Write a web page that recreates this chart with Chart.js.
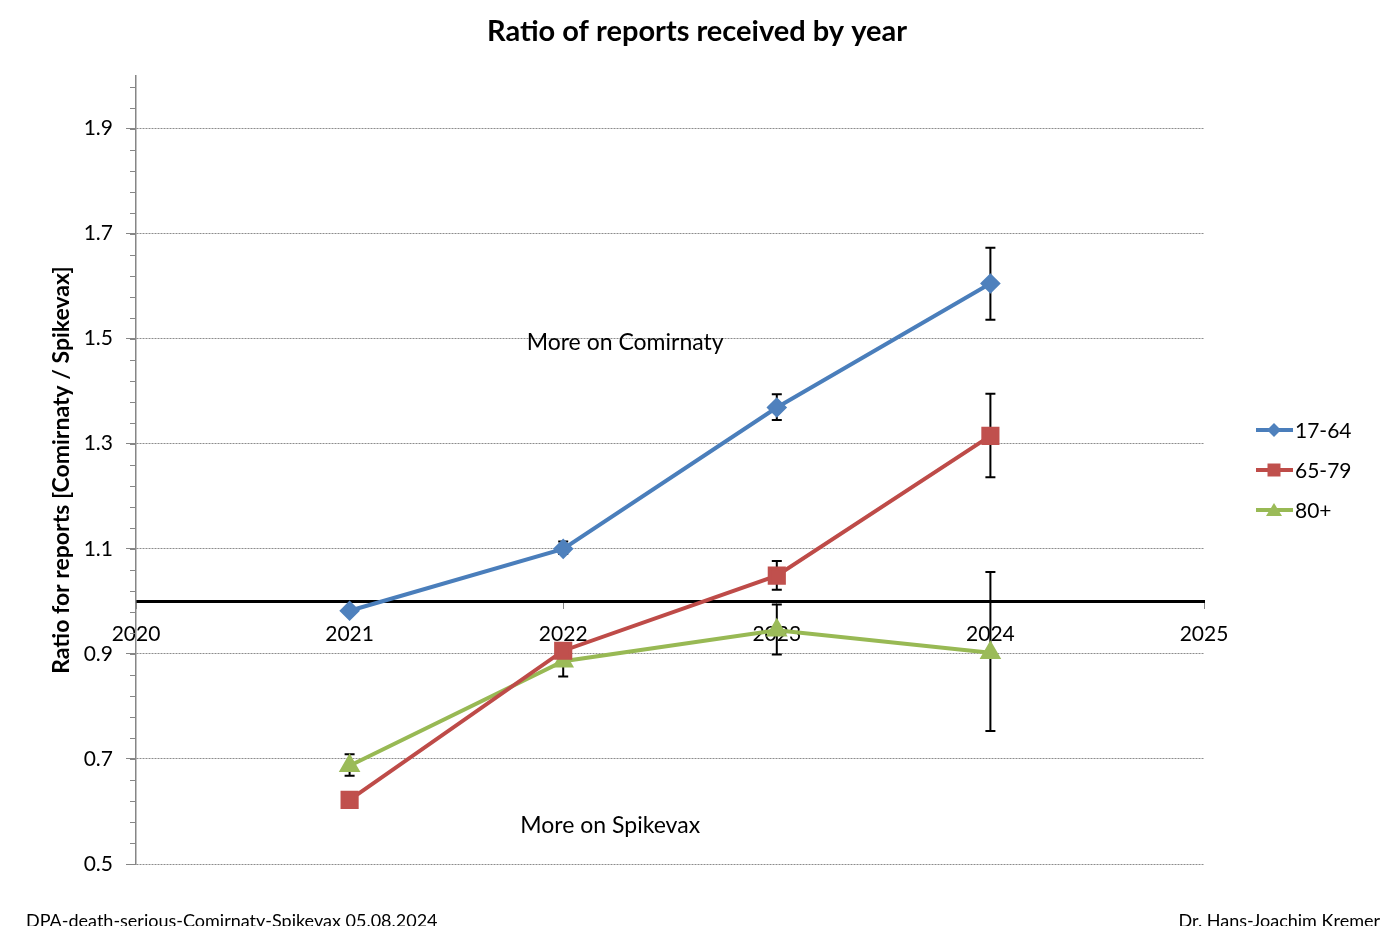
<!DOCTYPE html>
<html>
<head>
<meta charset="utf-8">
<script src="https://cdn.jsdelivr.net/npm/chart.js@4.4.1/dist/chart.umd.min.js"></script>
<style>
  html, body { margin: 0; padding: 0; background: #fff; }
  #wrap { width: 1386px; height: 926px; }
</style>
</head>
<body>
<div id="wrap"><canvas id="myChart"></canvas></div>
<script>
// 연도 / 눈금
const years = [2021, 2022, 2023, 2024];
const xTicks = [2020, 2021, 2022, 2023, 2024, 2025];
const yTicks = [0.5, 0.7, 0.9, 1.1, 1.3, 1.5, 1.7, 1.9];

// 연령대별 비율 (Comirnaty / Spikevax)
const seriesNames = ['17-64', '65-79', '80+'];
const r1764 = [0.982, 1.100, 1.369, 1.605];
const lo1764 = [0.978, 1.090, 1.345, 1.536];
const hi1764 = [0.986, 1.114, 1.394, 1.673];

const r6579 = [0.622, 0.906, 1.049, 1.315];
const lo6579 = [0.615, 0.893, 1.022, 1.236];
const hi6579 = [0.629, 0.919, 1.077, 1.395];

const r80 = [0.687, 0.886, 0.945, 0.902];
const lo80 = [0.668, 0.857, 0.899, 0.753];
const hi80 = [0.709, 0.915, 0.994, 1.056];

// 텍스트 주석 (데이터 좌표)
const notes = [
  { text: 'More on Comirnaty', x: 2022.29, y: 1.492 },
  { text: 'More on Spikevax', x: 2022.22, y: 0.574 },
];

const FONT = 'Lato, "Open Sans", sans-serif';

function makeSet(label, vals, lo, hi, color, fill, style, radius) {
  return {
    label: label,
    data: years.map((x, i) => ({ x: x, y: vals[i] })),
    errLo: lo,
    errHi: hi,
    borderColor: color,
    backgroundColor: fill,
    pointBackgroundColor: fill,
    pointBorderColor: fill,
    pointStyle: style,
    pointRadius: radius,
    pointHoverRadius: radius,
    borderWidth: 4,
    tension: 0,
  };
}

const data = {
  datasets: [
    makeSet(seriesNames[0], r1764, lo1764, hi1764, '#4A7EBB', '#4F81BD', 'rectRot', 7.5),
    makeSet(seriesNames[1], r6579, lo6579, hi6579, '#BE4B48', '#C0504D', 'rect', 10),
    makeSet(seriesNames[2], r80, lo80, hi80, '#98B954', '#9BBB59', 'triangle', 8.5),
  ],
};

// 에러바
const errorBars = {
  id: 'errorBars',
  beforeDatasetsDraw(chart) {
    const ctx = chart.ctx;
    const xs = chart.scales.x, ys = chart.scales.y;
    ctx.save();
    ctx.strokeStyle = '#000';
    ctx.lineWidth = 2;
    chart.data.datasets.forEach(ds => {
      years.forEach((yr, i) => {
        const px = xs.getPixelForValue(yr);
        const pLo = ys.getPixelForValue(ds.errLo[i]);
        const pHi = ys.getPixelForValue(ds.errHi[i]);
        ctx.beginPath();
        ctx.moveTo(px, pLo); ctx.lineTo(px, pHi);
        ctx.moveTo(px - 5, pLo); ctx.lineTo(px + 5, pLo);
        ctx.moveTo(px - 5, pHi); ctx.lineTo(px + 5, pHi);
        ctx.stroke();
      });
    });
    ctx.restore();
  },
};

// 보조 눈금, 제목, 범례, 주석
const extras = {
  id: 'extras',
  afterDraw(chart) {
    const ctx = chart.ctx;
    const ys = chart.scales.y, xs = chart.scales.x;
    const area = chart.chartArea;
    ctx.save();

    // minor ticks
    ctx.strokeStyle = '#868686';
    ctx.lineWidth = 1;
    for (let v = 0.54; v < 2.0; v += 0.04) {
      const py = Math.round(ys.getPixelForValue(v)) + 0.5;
      ctx.beginPath();
      ctx.moveTo(area.left - 6, py);
      ctx.lineTo(area.left, py);
      ctx.stroke();
    }

    // title
    ctx.fillStyle = '#000';
    ctx.textAlign = 'center';
    ctx.textBaseline = 'middle';
    ctx.font = 'bold 29px ' + FONT;
    ctx.fillText('Ratio of reports received by year', chart.width / 2 + 4, 32);

    // notes
    ctx.font = '23px ' + FONT;
    notes.forEach(n => {
      ctx.fillText(n.text, xs.getPixelForValue(n.x), ys.getPixelForValue(n.y));
    });

    // legend
    const lx = area.right + 52;
    chart.data.datasets.forEach((ds, i) => {
      const ly = 430 + i * 40;
      ctx.strokeStyle = ds.borderColor;
      ctx.lineWidth = 4;
      ctx.beginPath();
      ctx.moveTo(lx, ly); ctx.lineTo(lx + 37, ly);
      ctx.stroke();
      const cx = lx + 18;
      ctx.fillStyle = ds.pointBackgroundColor;
      ctx.beginPath();
      if (ds.pointStyle === 'rectRot') {
        ctx.moveTo(cx, ly - 7); ctx.lineTo(cx + 7, ly); ctx.lineTo(cx, ly + 7); ctx.lineTo(cx - 7, ly);
      } else if (ds.pointStyle === 'rect') {
        ctx.rect(cx - 6.5, ly - 6.5, 13, 13);
      } else {
        ctx.moveTo(cx, ly - 7); ctx.lineTo(cx + 8, ly + 6); ctx.lineTo(cx - 8, ly + 6);
      }
      ctx.closePath();
      ctx.fill();
      ctx.fillStyle = '#000';
      ctx.textAlign = 'left';
      ctx.textBaseline = 'middle';
      ctx.font = '21px ' + FONT;
      ctx.fillText(ds.label, lx + 39, ly + 1);
    });

    // footer
    ctx.font = '18px ' + FONT;
    ctx.textBaseline = 'alphabetic';
    ctx.textAlign = 'left';
    ctx.fillText('DPA-death-serious-Comirnaty-Spikevax 05.08.2024', 26, 927);
    ctx.textAlign = 'right';
    ctx.fillText('Dr. Hans-Joachim Kremer', 1380, 927);

    ctx.restore();
  },
};

const config = {
  type: 'line',
  data: data,
  options: {
    responsive: true,
    maintainAspectRatio: false,
    animation: false,
    devicePixelRatio: 1,
    layout: { padding: { top: 76, right: 182, bottom: 62, left: 0 } },
    plugins: {
      legend: { display: false },
      title: { display: false },
      tooltip: { enabled: false },
    },
    scales: {
      x: {
        type: 'linear',
        min: 2020,
        max: 2025,
        position: { y: 1 },
        afterBuildTicks: s => { s.ticks = xTicks.map(v => ({ value: v })); },
        ticks: {
          font: { family: FONT, size: 21 },
          color: '#000',
          padding: 14,
          maxRotation: 0,
          autoSkip: false,
          callback: v => String(v),
        },
        grid: { drawOnChartArea: false, drawTicks: true, tickLength: 6, tickColor: '#868686' },
        border: { color: '#000', width: 3 },
      },
      y: {
        type: 'linear',
        min: 0.5,
        max: 2.0,
        afterBuildTicks: s => { s.ticks = yTicks.map(v => ({ value: v })); },
        afterFit: s => { s.width = 136; },
        ticks: {
          font: { family: FONT, size: 21 },
          color: '#000',
          padding: 13,
          callback: v => v.toFixed(1),
        },
        grid: { color: '#8c8c8c', lineWidth: 1, tickLength: 10, tickColor: '#868686' },
        border: { color: '#868686', width: 1.5, dash: [2, 1] },
        title: {
          display: true,
          text: 'Ratio for reports [Comirnaty / Spikevax]',
          font: { family: FONT, size: 23, weight: 'bold' },
          color: '#000',
          padding: { top: 48, bottom: 0 },
        },
      },
    },
  },
  plugins: [errorBars, extras],
};

const myChart = new Chart(document.getElementById('myChart'), config);
</script>
</body>
</html>
